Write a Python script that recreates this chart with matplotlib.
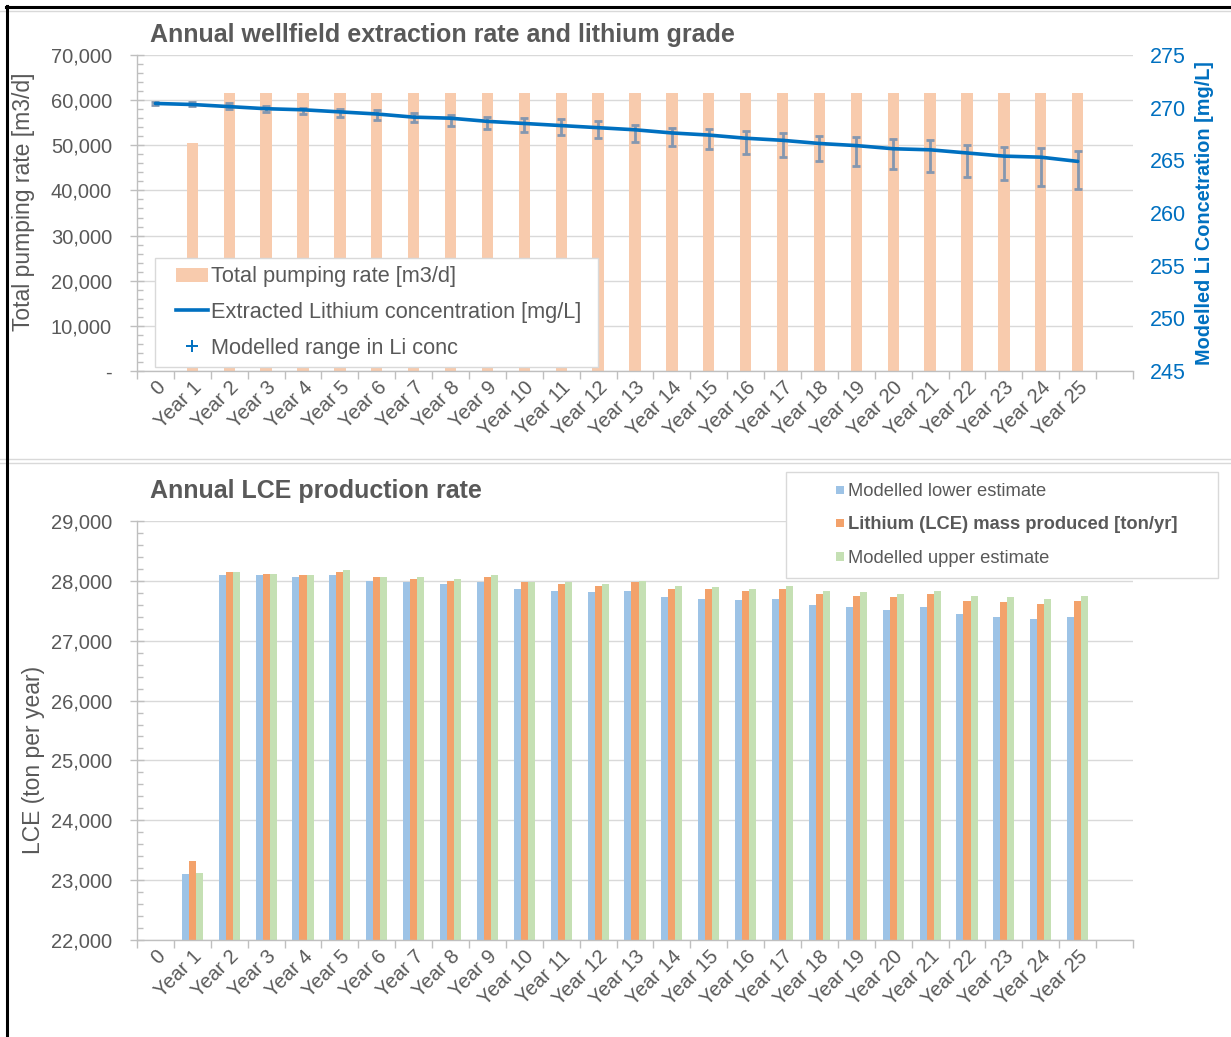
import numpy as np
import matplotlib
matplotlib.use("Agg")
import matplotlib.pyplot as plt
from matplotlib.lines import Line2D
from matplotlib.patches import Patch, Rectangle
from matplotlib.legend_handler import HandlerPatch, HandlerLine2D
from matplotlib.ticker import FuncFormatter, MultipleLocator

plt.rcParams['font.family'] = ['Liberation Sans', 'DejaVu Sans']

# ---------------- data ----------------
categories = ["0", "Year 1", "Year 2", "Year 3", "Year 4", "Year 5", "Year 6",
              "Year 7", "Year 8", "Year 9", "Year 10", "Year 11", "Year 12",
              "Year 13", "Year 14", "Year 15", "Year 16", "Year 17", "Year 18",
              "Year 19", "Year 20", "Year 21", "Year 22", "Year 23", "Year 24",
              "Year 25"]

pumping_rate = [0, 50500, 61500, 61500, 61500, 61500, 61500, 61500, 61500,
                61500, 61500, 61500, 61500, 61500, 61500, 61500, 61500, 61500,
                61500, 61500, 61500, 61500, 61500, 61500, 61500, 61500]

li_conc = [270.4, 270.3, 270.1, 269.9, 269.8, 269.6, 269.4, 269.1, 269.0,
           268.7, 268.5, 268.3, 268.1, 267.9, 267.6, 267.4, 267.1, 266.9,
           266.6, 266.4, 266.1, 266.0, 265.7, 265.4, 265.3, 264.9]
li_high = [270.5, 270.5, 270.4, 270.2, 270.0, 269.9, 269.8, 269.5, 269.3,
           269.1, 269.0, 268.9, 268.7, 268.4, 268.1, 268.0, 267.8, 267.6,
           267.3, 267.2, 267.0, 266.9, 266.5, 266.3, 266.2, 265.9]
li_low = [270.3, 270.2, 269.9, 269.6, 269.4, 269.1, 268.8, 268.6, 268.3,
          268.0, 267.7, 267.4, 267.1, 266.7, 266.4, 266.1, 265.6, 265.3,
          264.9, 264.5, 264.2, 263.9, 263.4, 263.1, 262.6, 262.3]

lce_lower = [0, 23100, 28090, 28090, 28065, 28090, 28005, 27985, 27950, 27985,
             27870, 27835, 27810, 27835, 27730, 27700, 27675, 27700, 27590,
             27565, 27510, 27565, 27450, 27400, 27365, 27400]
lce_mid = [0, 23320, 28145, 28115, 28090, 28145, 28060, 28035, 28000, 28060,
           27980, 27950, 27920, 27980, 27865, 27865, 27835, 27865, 27780,
           27755, 27725, 27780, 27670, 27645, 27610, 27670]
lce_upper = [0, 23125, 28145, 28115, 28090, 28175, 28060, 28060, 28035, 28090,
             27980, 27980, 27950, 28000, 27920, 27890, 27865, 27920, 27835,
             27810, 27780, 27835, 27755, 27725, 27700, 27755]

# ---------------- styling ----------------
W, H = 1231, 1037
GREY = '#595959'
AXC = '#BFBFBF'
GRID = '#D9D9D9'
BLUE = '#0070C0'


def fx(px):
    return px / W


def fy(py):
    return 1 - py / H


fig = plt.figure(figsize=(W / 100, H / 100), dpi=100)

x = np.arange(len(categories))


def style_axis(ax, ymin, ymax, major, minor, fmt):
    ax.set_xlim(-0.5, len(categories) + 0.5)
    ax.set_ylim(ymin, ymax)
    ax.yaxis.set_major_locator(MultipleLocator(major))
    ax.yaxis.set_minor_locator(MultipleLocator(minor))
    ax.yaxis.set_major_formatter(FuncFormatter(fmt))
    ax.grid(axis='y', which='major', color=GRID, lw=1)
    ax.set_axisbelow(True)
    for s in ('top', 'right'):
        ax.spines[s].set_visible(False)
    for s in ('left', 'bottom'):
        ax.spines[s].set_color(AXC)
        ax.spines[s].set_linewidth(1)
    ax.set_xticks(x)
    ax.set_xticklabels(categories, rotation=45, ha='right', va='top',
                       rotation_mode='anchor')
    ax.set_xticks(np.arange(-0.5, len(categories) + 1, 1), minor=True)
    ax.tick_params(axis='x', which='major', length=0, pad=5,
                   labelsize=14.5, labelcolor=GREY)
    ax.tick_params(axis='x', which='minor', length=6, color=AXC,
                   direction='out', width=1)
    ax.tick_params(axis='y', which='major', direction='inout', length=10,
                   color=AXC, width=1, labelsize=14.5, labelcolor=GREY, pad=13)
    ax.tick_params(axis='y', which='minor', direction='in', length=4,
                   color=AXC, width=1)


# ---------------- top chart ----------------
ax1 = fig.add_axes([fx(137), fy(371), (1133 - 137) / W, (371 - 55) / H])
style_axis(ax1, 0, 70000, 10000, 2000,
           lambda v, p: '-' if v == 0 else f'{v:,.0f}')
ax1.bar(x, pumping_rate, width=0.31, color='#F8CBAD', zorder=2)
ax1.set_ylabel('Total pumping rate [m3/d]', fontsize=16.5, color=GREY)
ax1.yaxis.set_label_coords(-0.102, 0.535)

ax2 = ax1.twinx()
ax2.set_ylim(245, 275)
ax2.yaxis.set_major_locator(MultipleLocator(5))
for s in ax2.spines.values():
    s.set_visible(False)
ax2.tick_params(axis='y', length=0, labelsize=15.5, labelcolor=BLUE, pad=12)
li = np.array(li_conc)
ax2.errorbar(x, li, yerr=[li - np.array(li_low), np.array(li_high) - li],
             fmt='none', ecolor='#8497B0', elinewidth=2, capsize=3,
             capthick=2, zorder=3)
ax2.plot(x, li, color=BLUE, lw=2.6, zorder=4, solid_capstyle='round')
ax2.set_ylabel('Modelled Li Concetration [mg/L]', fontsize=14.3,
               color=BLUE, fontweight='bold')
ax2.yaxis.set_label_coords(1.0622, 0.5)

fig.text(fx(150), fy(35), 'Annual wellfield extraction rate and lithium grade',
         fontsize=18, fontweight='bold', color=GREY, ha='left', va='center')


# legend handlers
class RightPatch(HandlerPatch):
    def __init__(self, pw, ph, **kw):
        super().__init__(**kw)
        self.pw, self.ph = pw, ph

    def create_artists(self, legend, orig_handle, xdescent, ydescent,
                       width, height, fontsize, trans):
        p = Rectangle((-xdescent + width - self.pw,
                       -ydescent + (height - self.ph) / 2),
                      self.pw, self.ph)
        self.update_prop(p, orig_handle, legend)
        p.set_transform(trans)
        return [p]


class RightLine(HandlerLine2D):
    def __init__(self, seg, **kw):
        super().__init__(**kw)
        self.seg = seg

    def get_xdata(self, legend, xdescent, ydescent, width, height, fontsize):
        x1 = -xdescent + width
        x0 = x1 - self.seg
        return np.array([x0, x1]), np.array([(x0 + x1) / 2])


h_bar = Patch(facecolor='#F8CBAD', edgecolor='none')
h_line = Line2D([], [], color=BLUE, lw=2.6)
h_err = Line2D([], [], color=BLUE, lw=0, marker='+', markersize=9,
               markeredgewidth=1.4)
leg1 = ax2.legend([h_bar, h_line, h_err],
                  ['Total pumping rate [m3/d]',
                   'Extracted Lithium concentration [mg/L]',
                   'Modelled range in Li conc'],
                  loc='upper left',
                  bbox_to_anchor=(fx(155), fy(360), 443 / W, 102 / H),
                  bbox_transform=fig.transFigure, mode='expand',
                  borderaxespad=0, borderpad=0.38, labelspacing=0.68,
                  handlelength=2.05, handletextpad=0.15, fontsize=15.7,
                  frameon=True, fancybox=False, framealpha=1,
                  edgecolor=GRID,
                  handler_map={h_bar: RightPatch(23, 10),
                               h_line: RightLine(23),
                               h_err: RightLine(23)})
leg1.get_frame().set_linewidth(1)
for t in leg1.get_texts():
    t.set_color(GREY)

# ---------------- bottom chart ----------------
ax3 = fig.add_axes([fx(137), fy(940), (1133 - 137) / W, (940 - 521) / H])
style_axis(ax3, 22000, 29000, 1000, 200, lambda v, p: f'{v:,.0f}')
bw = 0.19
b1 = ax3.bar(x - bw, lce_lower, width=bw, color='#9DC3E6', zorder=2)
b2 = ax3.bar(x, lce_mid, width=bw, color='#F3A26B', zorder=2)
b3 = ax3.bar(x + bw, lce_upper, width=bw, color='#C5E0B4', zorder=2)
ax3.set_ylabel('LCE (ton per year)', fontsize=16.5, color=GREY)
ax3.yaxis.set_label_coords(-0.092, 0.43)

fig.text(fx(150), fy(491), 'Annual LCE production rate',
         fontsize=18, fontweight='bold', color=GREY, ha='left', va='center')

hb1 = Patch(facecolor='#9DC3E6', edgecolor='none')
hb2 = Patch(facecolor='#F3A26B', edgecolor='none')
hb3 = Patch(facecolor='#C5E0B4', edgecolor='none')
leg2 = fig.legend([hb1, hb2, hb3],
                  ['Modelled lower estimate',
                   'Lithium (LCE) mass produced [ton/yr]',
                   'Modelled upper estimate'],
                  loc='upper left',
                  bbox_to_anchor=(fx(786), fy(578), (1218 - 786) / W, 106 / H),
                  bbox_transform=fig.transFigure, mode='expand',
                  borderaxespad=0, borderpad=0.61, labelspacing=0.89,
                  handlelength=2.55, handletextpad=0.22, fontsize=13.2,
                  frameon=True, fancybox=False, framealpha=1,
                  edgecolor=GRID,
                  handler_map={hb1: RightPatch(6, 6),
                               hb2: RightPatch(6, 6),
                               hb3: RightPatch(6, 6)})
leg2.get_frame().set_linewidth(1)
for t in leg2.get_texts():
    t.set_color(GREY)
leg2.get_texts()[1].set_fontweight('bold')

# ---------------- frame / separators ----------------
fig.add_artist(Line2D([fx(0), fx(W)], [fy(11), fy(11)], color=GRID, lw=1,
                      transform=fig.transFigure))
fig.add_artist(Line2D([fx(0), fx(W)], [fy(459), fy(459)], color=GRID, lw=1,
                      transform=fig.transFigure))
fig.add_artist(Line2D([fx(0), fx(W)], [fy(463), fy(463)], color=GRID, lw=1,
                      transform=fig.transFigure))
fig.add_artist(Line2D([fx(6.5), fx(6.5)], [0, fy(6)], color='black', lw=2.2,
                      transform=fig.transFigure))
fig.add_artist(Line2D([fx(5.5), 1], [fy(7), fy(7)], color='black', lw=2.2,
                      transform=fig.transFigure))

fig.savefig('out.png', dpi=100)
